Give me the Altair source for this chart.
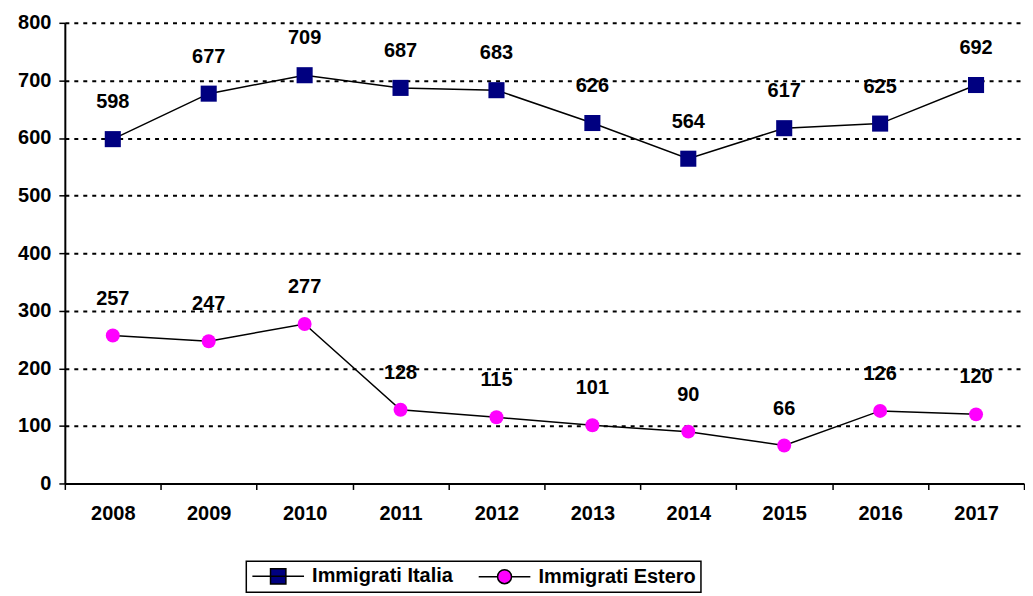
import altair as alt
import pandas as pd

years = ["2008", "2009", "2010", "2011", "2012", "2013", "2014", "2015", "2016", "2017"]
italia = [598, 677, 709, 687, 683, 626, 564, 617, 625, 692]
estero = [257, 247, 277, 128, 115, 101, 90, 66, 126, 120]
series_names = ["Immigrati Italia", "Immigrati Estero"]
series_colors = ["#000080", "#FF00FF"]
series_shapes = ["square", "circle"]
# legend symbols: a line with the marker in the middle (normalized to the marker size)
legend_paths = [
    "M-3.7,0H3.7M-1.1,-1.1H1.1V1.1H-1.1Z",
    "M-3.7,0H-1M1,0H3.7M1,0A1,1 0 1,1 -1,0A1,1 0 1,1 1,0Z",
]

rows = []
for y, v in zip(years, italia):
    rows.append({"year": y, "value": v, "series": series_names[0]})
for y, v in zip(years, estero):
    rows.append({"year": y, "value": v, "series": series_names[1]})
df = pd.DataFrame(rows)

FONT = "Liberation Sans"
FS = 20

x = alt.X("year:N", title=None, sort=years,
          scale=alt.Scale(paddingInner=0, paddingOuter=0),
          axis=alt.Axis(labelAngle=0, labelFont=FONT, labelFontSize=FS, labelFontWeight="bold",
                        labelColor="black", tickBand="extent", tickSize=6, tickWidth=1.5,
                        tickColor="black", domainColor="black", domainWidth=2, labelPadding=14,
                        grid=False))
y = alt.Y("value:Q", title=None,
          scale=alt.Scale(domain=[0, 800], nice=False),
          axis=alt.Axis(values=list(range(0, 801, 100)), labelFont=FONT, labelFontSize=FS,
                        labelFontWeight="bold", labelColor="black", tickSize=6, tickWidth=1.5,
                        tickColor="black", domainColor="black", domainWidth=2, labelPadding=8,
                        grid=True, gridColor="black", gridDash=[4, 5], gridWidth=2))

base = alt.Chart(df)

lines = base.mark_line(color="black", strokeWidth=1.5).encode(x=x, y=y, detail="series:N")

points = base.mark_point(filled=True, opacity=1).encode(
    x=x, y=y,
    shape=alt.Shape("series:N", scale=alt.Scale(domain=series_names, range=series_shapes), legend=None),
    fill=alt.Fill("series:N", scale=alt.Scale(domain=series_names, range=series_colors), legend=None),
    size=alt.Size("series:N", scale=alt.Scale(domain=series_names, range=[260, 196]), legend=None),
)

labels = base.mark_text(dy=-37, font=FONT, fontSize=FS, fontWeight="bold", color="black").encode(
    x=x, y=y, text="value:Q"
)

legend_opts = dict(title=None, orient="none", legendX=182, legendY=540,
                   direction="horizontal", strokeColor="black", padding=5,
                   symbolSize=196, symbolOpacity=1, symbolOffset=17,
                   symbolStrokeWidth=1.5,
                   labelFont=FONT, labelFontSize=FS, labelFontWeight="bold",
                   labelColor="black", labelOffset=24, columnPadding=22, labelLimit=300)

legend_layer = base.transform_filter("false").mark_point(
    filled=False, opacity=1, strokeWidth=1.5
).encode(
    x=x, y=y,
    shape=alt.Shape("series:N", scale=alt.Scale(domain=series_names, range=legend_paths),
                    legend=alt.Legend(**legend_opts)),
    fill=alt.Fill("series:N", scale=alt.Scale(domain=series_names, range=series_colors),
                  legend=alt.Legend(**legend_opts)),
    stroke=alt.Stroke("series:N", scale=alt.Scale(domain=series_names, range=["black", "black"]),
                      legend=alt.Legend(**legend_opts)),
)

chart = alt.layer(lines, points, labels, legend_layer).resolve_scale(
    shape="independent", fill="independent", size="independent", stroke="independent"
).properties(
    width=962, height=462,
    padding={"left": 9, "top": 4, "right": 0, "bottom": 0},
    background="white",
).configure_view(stroke=None).configure_legend(strokeWidth=1.5)

chart.save("out.html", embed_options={"renderer": "svg", "actions": False})
